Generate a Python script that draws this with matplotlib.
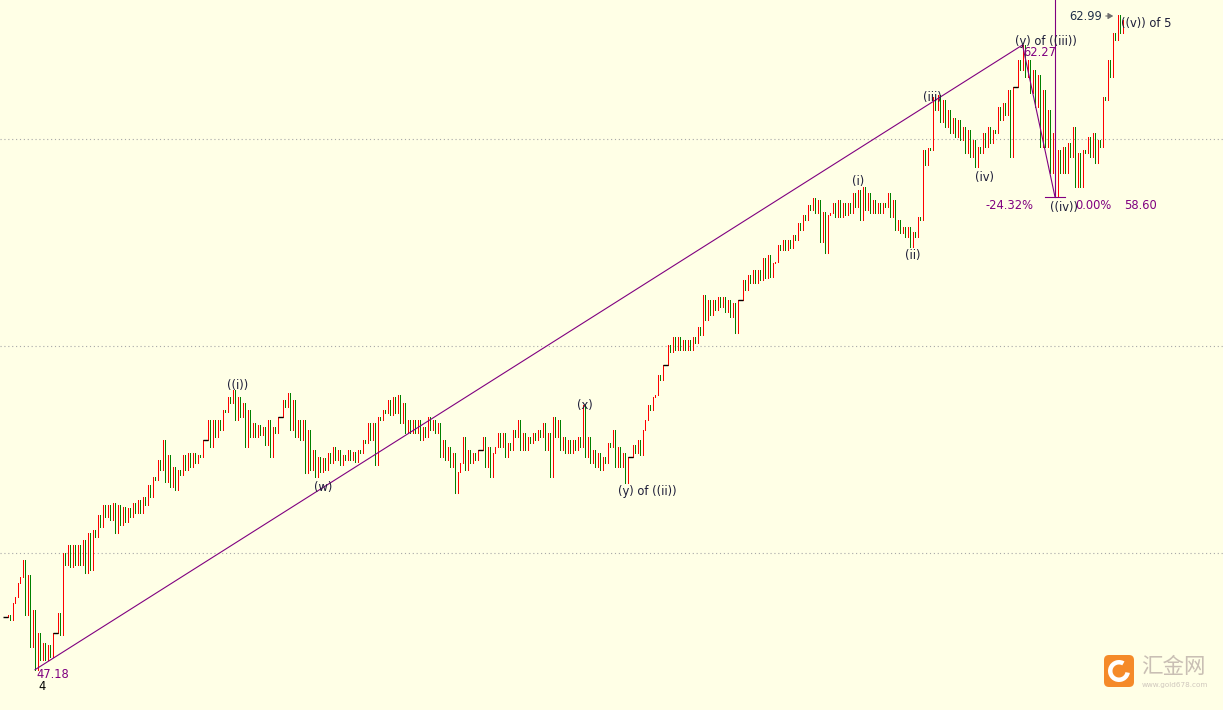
import numpy as np
import matplotlib
matplotlib.use("Agg")
import matplotlib.pyplot as plt
from matplotlib.patches import FancyBboxPatch, Wedge
from matplotlib.transforms import IdentityTransform

# ---------------- data (price swings, one pair per ~2 bars) ----------------
swing_highs = [
    48.50, 48.79, 49.27, 49.83, 49.47, 48.62, 48.07, 47.82, 47.78, 48.07,
    48.55, 50.00, 50.19, 50.19, 50.19, 50.31, 50.48, 50.56, 50.92, 51.16,
    51.16, 51.21, 51.16, 51.11, 51.09, 51.21, 51.28, 51.35, 51.64, 51.83,
    52.25, 52.73, 52.37, 52.08, 52.00, 52.37, 52.42, 52.42, 52.37, 52.73,
    53.21, 53.21, 53.21, 53.45, 53.77, 53.94, 53.77, 53.62, 53.45, 53.14,
    53.09, 53.04, 53.21, 53.04, 53.28, 53.70, 53.86, 53.70, 53.21, 53.21,
    52.97, 52.49, 52.32, 52.30, 52.42, 52.56, 52.49, 52.37, 52.49, 52.44,
    52.49, 52.73, 53.14, 53.14, 53.28, 53.45, 53.70, 53.77, 53.82, 53.62,
    53.21, 53.21, 53.21, 53.04, 53.28, 53.21, 53.14, 52.73, 52.56, 52.42,
    51.95, 52.80, 52.49, 52.42, 52.49, 52.80, 52.56, 52.42, 52.90, 52.90,
    52.66, 52.97, 53.21, 52.90, 52.80, 52.90, 52.97, 53.14, 52.90, 53.28,
    53.21, 52.80, 52.73, 52.73, 52.80, 53.57, 52.80, 52.49, 52.42, 52.32,
    52.66, 52.97, 52.56, 52.42, 52.32, 52.61, 52.73, 52.97, 53.57, 53.77,
    54.30, 54.54, 55.02, 55.22, 55.22, 55.14, 55.14, 55.22, 55.46, 56.23,
    56.11, 56.11, 56.18, 56.18, 56.11, 56.04, 56.11, 56.59, 56.71, 56.84,
    56.84, 57.13, 57.20, 57.01, 57.44, 57.56, 57.56, 57.68, 57.97, 58.16,
    58.41, 58.58, 58.53, 58.24, 58.16, 58.45, 58.53, 58.45, 58.45, 58.70,
    58.77, 58.84, 58.70, 58.53, 58.45, 58.45, 58.70, 58.53, 58.04, 57.87,
    57.87, 57.75, 58.12, 59.73, 59.78, 61.01, 61.06, 60.94, 60.70, 60.51,
    60.46, 60.29, 60.22, 59.98, 59.81, 60.14, 60.29, 60.22, 60.77, 60.87,
    61.18, 61.26, 61.91, 62.27, 61.91, 61.67, 61.55, 61.18, 60.70, 60.14,
    59.73, 59.81, 59.90, 60.29, 59.66, 59.73, 60.05, 60.14, 59.98, 61.01,
    61.91, 62.56, 62.99, 62.87,
]
swing_lows = [
    48.45, 48.38, 48.94, 49.42, 48.50, 47.73, 47.18, 47.42, 47.42, 47.49,
    48.07, 48.02, 49.71, 49.66, 49.71, 49.71, 49.52, 49.59, 50.39, 50.63,
    50.87, 50.80, 50.48, 50.68, 50.75, 50.87, 50.97, 50.97, 51.16, 51.35,
    51.76, 52.00, 51.71, 51.59, 51.52, 51.88, 52.00, 52.08, 52.17, 52.32,
    52.73, 52.56, 52.80, 52.97, 53.40, 53.62, 53.21, 53.28, 52.56, 52.80,
    52.80, 52.85, 52.61, 52.32, 52.90, 53.28, 53.52, 52.97, 52.80, 52.73,
    51.93, 52.00, 51.83, 51.95, 52.00, 52.17, 52.25, 52.13, 52.25, 52.25,
    52.20, 52.42, 52.66, 52.73, 52.13, 53.21, 53.38, 53.33, 53.38, 53.14,
    52.90, 52.90, 52.90, 52.73, 52.80, 52.97, 52.90, 52.32, 52.25, 52.08,
    51.45, 52.17, 52.00, 52.17, 52.25, 52.49, 52.08, 51.83, 52.56, 52.56,
    52.32, 52.49, 52.80, 52.49, 52.49, 52.66, 52.73, 52.80, 52.49, 51.83,
    52.80, 52.49, 52.42, 52.42, 52.49, 52.56, 52.32, 52.17, 52.08, 52.00,
    52.17, 52.56, 52.08, 52.08, 51.69, 52.32, 52.42, 52.37, 53.21, 53.45,
    53.82, 54.18, 54.54, 54.85, 54.90, 54.90, 54.90, 54.90, 55.07, 55.27,
    55.63, 55.75, 55.87, 55.94, 55.82, 55.70, 55.31, 56.11, 56.35, 56.52,
    56.52, 56.59, 56.64, 56.67, 57.03, 57.32, 57.32, 57.37, 57.56, 57.80,
    58.04, 58.29, 58.21, 57.51, 57.25, 58.21, 58.12, 58.12, 58.16, 58.21,
    58.36, 58.04, 58.29, 58.21, 58.21, 58.21, 58.36, 58.12, 57.80, 57.73,
    57.63, 57.39, 57.63, 58.04, 59.37, 59.73, 60.70, 60.41, 60.29, 60.14,
    60.05, 59.98, 59.66, 59.57, 59.32, 59.66, 59.81, 59.90, 60.14, 60.46,
    60.58, 59.57, 61.26, 61.67, 61.50, 61.11, 60.77, 59.81, 59.81, 59.18,
    58.60, 59.18, 59.18, 59.57, 58.84, 58.84, 59.66, 59.57, 59.42, 59.81,
    60.94, 61.50, 62.39, 62.56,
]
grid_levels = [50, 55, 60]
wave_low_value = 47.18     # start of trend line ("4")
wave_iii_value = 62.27     # (y) of ((iii))
wave_iv_value = 58.60      # ((iv))
wave_v_value = 62.99       # ((v)) of 5

# ---------------- build bars ----------------
closes = []
for lo, hi in zip(swing_lows, swing_highs):
    closes += [lo, hi]
closes = np.array(closes)
opens = np.concatenate([[closes[0]], closes[:-1]])
x = np.arange(len(closes))

W, H = 1223, 710
BG = "#FFFFE6"
fig = plt.figure(figsize=(W / 100, H / 100), dpi=100, facecolor=BG)
ax = fig.add_axes([0, 0, 1, 1])
ax.set_axis_off()

# bar i at pixel 5 + 2.5 i
ax.set_xlim(-2, (W - 5) / 2.5)
ax.set_ylim(46.207, 63.357)

for g in grid_levels:
    ax.axhline(g, color="#A8A8A8", lw=0.8, ls=(0, (1, 2.5)), zorder=1)

up = closes > opens
dn = closes < opens
dj = closes == opens
ax.vlines(x[up], opens[up], closes[up], colors="#FF0000", lw=0.72,
          antialiased=False, zorder=3)
ax.vlines(x[dn], closes[dn], opens[dn], colors="#008000", lw=0.72,
          antialiased=False, zorder=3)
ax.hlines(closes[dj], x[dj] - 1, x[dj] + 1, colors="#000000", lw=1.0, zorder=3)

# wave lines
i_low = int(np.argmin(closes))
i_iii = int(np.where(np.isclose(closes, wave_iii_value))[0][0])
i_iv = int(np.where(np.isclose(closes, wave_iv_value))[0][0])
i_v = int(np.argmax(closes))
purple = "#800080"
LW = 0.8
ax.plot([i_low, i_iii], [closes[i_low], closes[i_iii]], color=purple, lw=LW, zorder=4)
ax.plot([i_iii, i_iv], [closes[i_iii], closes[i_iv]], color=purple, lw=LW, zorder=4)
ax.plot([i_iv, i_iv], [closes[i_iv], 63.357], color=purple, lw=LW, zorder=4)
ax.plot([i_iv - 4, i_iv + 4], [closes[i_iv], closes[i_iv]], color=purple, lw=LW, zorder=4)

# ---------------- labels (pixel positions) ----------------
FS = 8.3
DARK = "#1C1C38"


def label(px, py, s, color=DARK, ha="center", fs=FS, **kw):
    fig.text(px / W, 1 - py / H, s, ha=ha, va="center", fontsize=fs,
             color=color, family="DejaVu Sans", zorder=6, **kw)


label(36, 675, "47.18", color=purple, ha="left")
label(42, 686, "4", color="#000000")
label(238, 385, "((i))")
label(323, 488, "(w)")
label(585, 405, "(x)")
label(618, 492, "(y) of ((ii))", ha="left")
label(858, 181, "(i)")
label(913, 256, "(ii)")
label(932, 98, "(iii)")
label(985, 177, "(iv)")
label(1015, 41, "(y) of ((iii))", ha="left")
label(1023, 53, f"{wave_iii_value:.2f}", color=purple, ha="left")
label(1034, 205, "-24.32%", color=purple, ha="right")
label(1064, 207, "((iv))")
label(1075, 205, "0.00%", color=purple, ha="left")
label(1124, 205, f"{wave_iv_value:.2f}", color=purple, ha="left")
label(1102, 16, f"{wave_v_value:.2f}", color="#203048", ha="right")
label(1121, 23, "((v)) of 5", ha="left")
fig.add_artist(matplotlib.patches.FancyArrowPatch(
    (1103 / W, 1 - 16 / H), (1116 / W, 1 - 16 / H), transform=fig.transFigure,
    arrowstyle="-|>,head_length=3,head_width=1.8", color="#707070", lw=0.8,
    mutation_scale=1))

# ---------------- watermark ----------------
logo = FancyBboxPatch((1104, H - 687), 30, 32, boxstyle="round,pad=0,rounding_size=5",
                      transform=IdentityTransform(), facecolor="#F5841F",
                      edgecolor="none", alpha=0.95)
fig.add_artist(logo)
fig.add_artist(Wedge((1119, H - 671), 11, 60, 350, width=4.5,
                     transform=IdentityTransform(), facecolor="white", edgecolor="none"))
fig.text(1141 / W, 1 - 667 / H, "汇金网", fontsize=15.5, color="#C9BFB4",
         family=["Noto Sans CJK SC", "DejaVu Sans"], ha="left", va="center")
fig.text(1142 / W, 1 - 685 / H, "www.gold678.com", fontsize=5.2, color="#D0C8BE",
         family="DejaVu Sans", ha="left", va="center")

fig.savefig("out.png", dpi=100, facecolor=BG)
